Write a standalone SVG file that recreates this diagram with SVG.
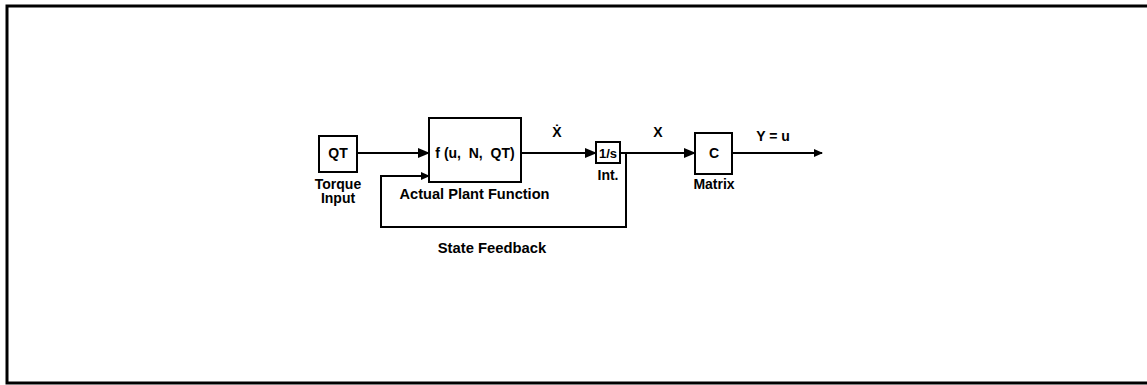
<svg xmlns="http://www.w3.org/2000/svg" width="1147" height="385" viewBox="0 0 1147 385">
<style>
.box{fill:#fff;stroke:#000;stroke-width:2}
.ln{fill:none;stroke:#000;stroke-width:2}
text{font-family:"Liberation Sans","DejaVu Sans",Arial,sans-serif;font-weight:bold;font-size:14px;fill:#000;text-anchor:middle}
</style>
<defs>
<marker id="arr" markerWidth="12" markerHeight="10" refX="11" refY="5" orient="auto" markerUnits="userSpaceOnUse">
<path d="M0,0 L12,5 L0,10 Z" fill="#000"/>
</marker>
<marker id="arrs" markerWidth="9" markerHeight="8" refX="8" refY="4" orient="auto" markerUnits="userSpaceOnUse">
<path d="M0,0 L9,4 L0,8 Z" fill="#000"/>
</marker>
</defs>
<rect x="0" y="0" width="1147" height="385" fill="#fff"/>
<path d="M1150,6 H7 V383 H1150" fill="none" stroke="#000" stroke-width="3"/>
<g id="connectors">
<path class="ln" d="M357,153 H429" marker-end="url(#arr)"/>
<path class="ln" d="M521,153 H596" marker-end="url(#arr)"/>
<path class="ln" d="M620,153 H695" marker-end="url(#arr)"/>
<path class="ln" d="M732,153 H822" marker-end="url(#arrs)"/>
<path class="ln" d="M626,153 V227 H381 V176 H429" marker-end="url(#arrs)"/>
<text x="557" y="137">Ẋ</text>
<text x="658" y="137">X</text>
<text x="773" y="141">Y = u</text>
<text x="492" y="253" style="font-size:14.8px">State Feedback</text>
</g>
<g id="qt">
<rect class="box" x="319" y="136" width="38" height="36"/>
<text x="338" y="158">QT</text>
<text x="338" y="189">Torque</text>
<text x="338" y="203">Input</text>
</g>
<g id="plant">
<rect class="box" x="429" y="118" width="92" height="64"/>
<text x="475" y="158" xml:space="preserve">f (u,  N,  QT)</text>
<text x="474.5" y="199" style="font-size:14.6px">Actual Plant Function</text>
</g>
<g id="int">
<rect class="box" x="596" y="142" width="24" height="21"/>
<text x="608" y="158" style="font-size:13px">1/s</text>
<text x="608" y="180">Int.</text>
</g>
<g id="matrix">
<rect class="box" x="695" y="133" width="37" height="41"/>
<text x="714" y="158">C</text>
<text x="714" y="189">Matrix</text>
</g>
</svg>
